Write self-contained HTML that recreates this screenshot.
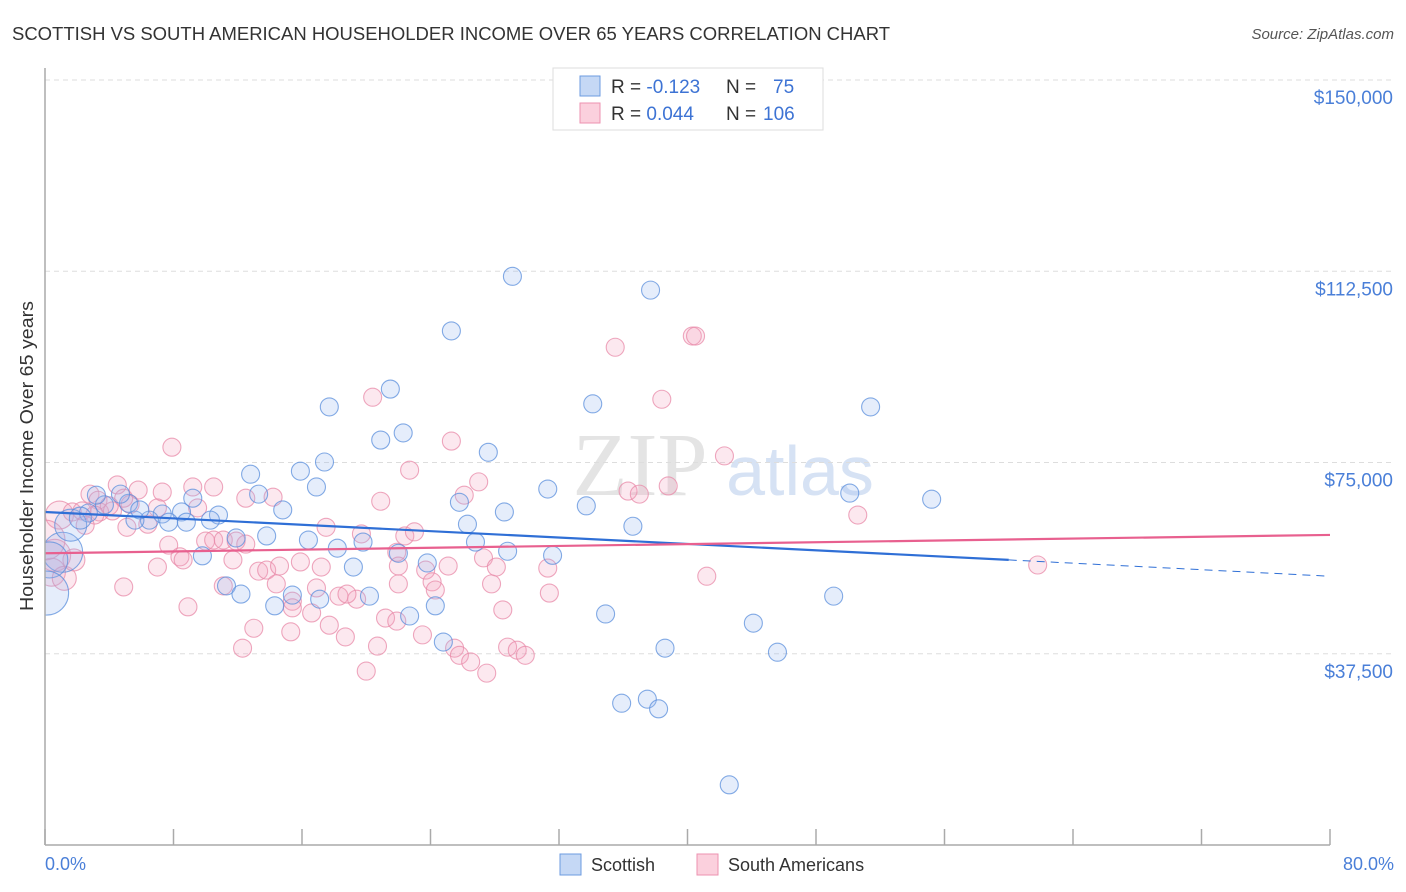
<!DOCTYPE html>
<html><head><meta charset="utf-8"><style>
body{margin:0;background:#fff;font-family:"Liberation Sans",sans-serif;}
#wrap{position:relative;width:1406px;height:892px;overflow:hidden;}
</style></head><body>
<div id="wrap">
<svg id="svg" width="1406" height="892">
<defs><clipPath id="plotclip"><rect x="45" y="60" width="1360" height="785"/></clipPath></defs>
<text x="12" y="40" font-size="18" fill="#333" textLength="878" lengthAdjust="spacingAndGlyphs">SCOTTISH VS SOUTH AMERICAN HOUSEHOLDER INCOME OVER 65 YEARS CORRELATION CHART</text>
<text x="1394" y="39" font-size="15" fill="#555" font-style="italic" text-anchor="end">Source: ZipAtlas.com</text>
<text x="0" y="0" font-size="18" fill="#333" text-anchor="middle" transform="translate(33,456) rotate(-90)" textLength="310" lengthAdjust="spacingAndGlyphs">Householder Income Over 65 years</text>
<text x="640" y="495" font-size="90" fill="#e4e4e4" font-family="Liberation Serif,serif" text-anchor="middle">ZIP</text>
<text x="800" y="495" font-size="70" fill="#d6e2f4" text-anchor="middle">atlas</text>
<g id="grid"></g><g id="pts" clip-path="url(#plotclip)"></g><g id="lines"></g>
<line x1="45" y1="68" x2="45" y2="845" stroke="#aaa" stroke-width="1.5"/>
<line x1="45" y1="845" x2="1330" y2="845" stroke="#aaa" stroke-width="1.5"/>
<g id="xt"></g>
<text x="45" y="870" font-size="18" fill="#4a7fd8">0.0%</text>
<text x="1394" y="870" font-size="18" fill="#4a7fd8" text-anchor="end">80.0%</text>
<g>
<rect x="553" y="68" width="270" height="62" fill="#fff" stroke="#ddd"/>
<rect x="580" y="76" width="20" height="20" fill="#c5d8f5" stroke="#6c9be0"/>
<rect x="580" y="103" width="20" height="20" fill="#fbd0dd" stroke="#ec92b0"/>
<text x="611" y="93" font-size="19" fill="#333">R = <tspan fill="#3d73d4">-0.123</tspan><tspan x="726">N = </tspan><tspan x="773" fill="#3d73d4">75</tspan></text>
<text x="611" y="120" font-size="19" fill="#333">R = <tspan fill="#3d73d4">0.044</tspan><tspan x="726">N = </tspan><tspan x="763" fill="#3d73d4">106</tspan></text>
</g>
<g><rect x="560" y="854" width="21" height="21" fill="#c5d8f5" stroke="#6c9be0"/><text x="591" y="871" font-size="18" fill="#333">Scottish</text></g>
<g><rect x="697" y="854" width="21" height="21" fill="#fbd0dd" stroke="#ec92b0"/><text x="728" y="871" font-size="18" fill="#333">South Americans</text></g>
</svg></div>
<script>
const yTicks=[150000,112500,75000,37500];
const yTickLabels=["$150,000","$112,500","$75,000","$37,500"];
const xTicks=[0,8,16,24,32,40,48,56,64,72,80];
const blueX=[29.1,37.7,25.3,21.5,17.7,34.1,51.4,20.9,22.3,27.6,12.8,15.9,17.4,16.9,31.3,13.3,9.2,50.1,55.2,25.8,33.7,28.6,14.8,10.8,7.3,8.5,5.2,6.5,7.7,8.8,10.3,3.7,3.2,4.7,2.7,26.3,36.6,13.8,11.9,16.4,18.2,19.8,26.8,28.8,31.6,22.0,23.8,9.8,19.2,11.3,12.2,15.4,17.1,20.2,24.3,22.7,14.3,34.9,49.1,44.1,45.6,38.6,24.8,35.9,37.5,38.2,42.6,1.1,0.3,0.1,1.6,2.2,5.6,5.9];
const blueY=[111.5,108.8,100.8,89.4,85.9,86.5,85.9,79.4,80.8,77.0,72.7,73.3,75.1,70.2,69.8,68.8,68.0,69.0,67.8,67.2,66.5,65.3,65.7,64.7,64.9,65.3,67.0,63.7,63.3,63.3,63.7,66.7,68.6,68.8,65.1,62.9,62.5,60.6,60.2,59.8,58.2,59.4,59.4,57.6,56.8,57.2,55.3,56.7,54.5,50.8,49.2,49.0,48.2,48.8,46.9,44.9,46.9,45.3,48.8,43.5,37.8,38.6,39.8,27.8,28.6,26.7,11.8,57.4,55.9,49.4,62.7,64.1,63.7,65.7];
const blueR=[9,9,9,9,9,9,9,9,9,9,9,9,9,9,9,9,9,9,9,9,9,9,9,9,9,9,9,9,9,9,9,9,9,9,9,9,9,9,9,9,9,9,9,9,9,9,9,9,9,9,9,9,9,9,9,9,9,9,9,9,9,9,9,9,9,9,9,20,18,22,16,11,9,9];
const pinkX=[40.3,40.5,35.5,20.4,38.4,7.9,25.3,42.3,22.7,36.3,37.0,38.8,27.0,26.1,20.9,4.5,2.8,3.3,5.3,7.3,9.2,10.5,12.5,14.2,17.5,19.7,22.4,23.0,50.6,5.1,6.4,0.9,1.7,2.3,3.4,4.2,9.5,7.7,8.4,10.0,10.5,11.1,11.9,12.5,7.0,8.6,11.7,13.3,13.8,14.6,15.9,17.2,21.9,22.0,23.7,24.1,25.1,27.3,28.1,31.3,41.2,61.8,4.9,11.1,14.4,16.9,18.3,19.4,18.8,22.0,24.3,27.8,31.4,8.9,15.4,16.6,15.4,13.0,17.7,21.2,21.9,15.3,18.7,23.5,25.5,25.8,26.5,27.5,28.8,29.4,29.9,20.0,20.7,28.5,12.3,0.6,0.4,1.2,4.0,3.1,2.5,5.8,4.9,7.0,0,1.8];
const pinkY=[99.8,99.8,97.6,87.8,87.4,78.0,79.2,76.3,73.5,69.4,68.8,70.4,71.2,68.6,67.4,70.6,68.8,67.6,66.8,69.2,70.2,70.2,68.0,68.2,62.3,61.0,60.6,61.4,64.7,62.3,62.9,64.7,65.3,65.5,65.3,65.5,66.1,58.8,56.5,59.6,59.8,59.8,59.6,59.0,54.5,55.9,55.9,53.7,53.9,54.7,55.5,54.5,57.4,54.7,53.9,51.6,54.7,56.3,54.5,54.3,52.7,54.9,50.6,50.8,51.2,50.4,48.8,48.2,49.2,51.2,50.0,51.2,49.4,46.7,47.8,45.5,46.5,42.5,43.1,44.5,43.9,41.8,40.8,41.2,38.6,37.2,35.9,33.7,38.8,38.2,37.2,34.1,39.0,46.1,38.6,56.8,53.5,52.3,66.5,64.7,62.7,69.6,68.0,66.1,59.8,55.9];
const pinkR=[9,9,9,9,9,9,9,9,9,9,9,9,9,9,9,9,9,9,9,9,9,9,9,9,9,9,9,9,9,9,9,14,9,9,9,9,9,9,9,9,9,9,9,9,9,9,9,9,9,9,9,9,9,9,9,9,9,9,9,9,9,9,9,9,9,9,9,9,9,9,9,9,9,9,9,9,9,9,9,9,9,9,9,9,9,9,9,9,9,9,9,9,9,9,9,16,14,12,9,9,9,9,9,9,20,11];
const blueTrend=[65.3,55.9,52.7]; // at 0%, 60%, 80%
const pinkTrend=[57.2,60.8]; // at 0%, 80%
const NS="http://www.w3.org/2000/svg";
const X=p=>45+p*(1285/80);
const Y=v=>845-v*(765/150000);
function mk(t,a,parent){const e=document.createElementNS(NS,t);for(const k in a)e.setAttribute(k,a[k]);document.getElementById(parent).appendChild(e);return e;}
yTicks.forEach((v,i)=>{
 const l=mk('line',{x1:45,x2:1394,y1:Y(v),y2:Y(v),stroke:'#ddd','stroke-dasharray':'5,4'},'grid');
 
 
 const t=mk('text',{x:1393,y:Y(v)+24,'font-size':19,fill:'#4a7fd8','text-anchor':'end'},'grid');
 t.textContent=yTickLabels[i];
 
 
});
xTicks.forEach(p=>{
 const l=mk('line',{x1:X(p),x2:X(p),y1:829,y2:845,stroke:'#aaa','stroke-width':1.5},'xt');
 
 
});
function pts(xs,ys,rs,fill,stroke,name){
 xs.forEach((p,i)=>{
  const c=mk('circle',{cx:X(p),cy:Y(ys[i]*1000),r:rs[i]||9,fill:fill,stroke:stroke,'stroke-width':1.1,'stroke-opacity':0.75},'pts');
  
  
 });
}
pts(pinkX,pinkY,pinkR,'rgba(245,165,190,0.25)','#e88aa8','south-americans-point');
pts(blueX,blueY,blueR,'rgba(150,185,240,0.25)','#5b8fdc','scottish-point');
let l=mk('line',{x1:X(0),y1:Y(blueTrend[0]*1000),x2:X(60),y2:Y(blueTrend[1]*1000),stroke:'#2f6fd6','stroke-width':2.2},'lines');


l=mk('line',{x1:X(60),y1:Y(blueTrend[1]*1000),x2:X(80),y2:Y(blueTrend[2]*1000),stroke:'#2f6fd6','stroke-width':1,'stroke-dasharray':'8,6'},'lines');


l=mk('line',{x1:X(0),y1:Y(pinkTrend[0]*1000),x2:X(80),y2:Y(pinkTrend[1]*1000),stroke:'#e8608f','stroke-width':2.2},'lines');


</script>
</body></html>
